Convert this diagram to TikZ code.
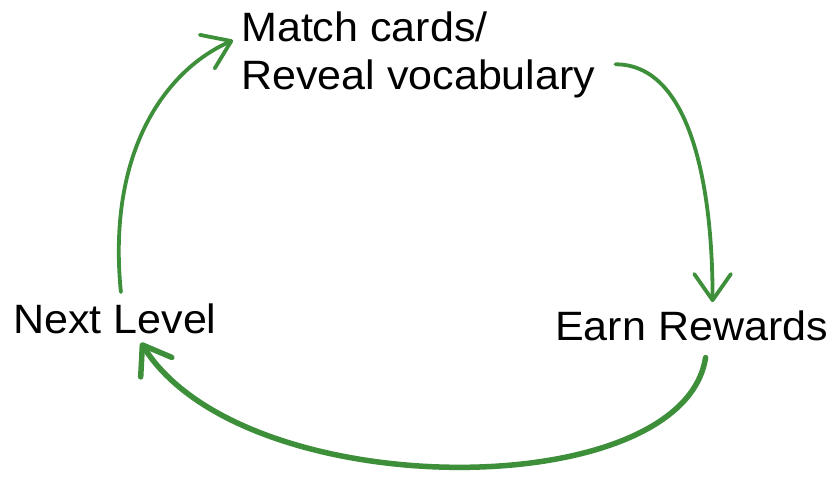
\documentclass[tikz,border=0pt]{standalone}
\usepackage{fontspec}
\setmainfont{Liberation Sans}[FakeStretch=1.05]
\usetikzlibrary{arrows.meta}
\definecolor{loopgreen}{RGB}{61,143,58}
\tikzset{>={Straight Barb[angle=70:32pt,round]}}

\begin{document}
\begin{tikzpicture}[x=1pt,y=-1pt,
		word/.style={inner sep=0pt,font=\fontsize{41}{48}\selectfont},
		flow/.style={->,draw=loopgreen,line width=3.8pt,line cap=round}]
		\useasboundingbox (0,0) rectangle (832,478);
		\node[word,anchor=north west,align=left] (match) at (241,12) {Match cards/\\Reveal vocabulary};
		\node[word,anchor=base west] (reward) at (555,340) {Earn Rewards};
		\node[word,anchor=base west] (next) at (13,333) {Next Level};
		\draw[flow] ([shift={(20,9)}]match.east) .. controls +(73,0) and +(0,-122) .. ([shift={(21,-8)}]reward.north);
		\draw[flow,line width=5.5pt] ([shift={(14,17)}]reward.south) .. controls +(-23,148) and +(102,163) .. ([shift={(26,9)}]next.south);
		\draw[flow] ([shift={(6,-11)}]next.north) .. controls +(-14,-140) and +(-68,30) .. ([shift={(-8,-15)}]match.west);
	\end{tikzpicture}
\end{document}
